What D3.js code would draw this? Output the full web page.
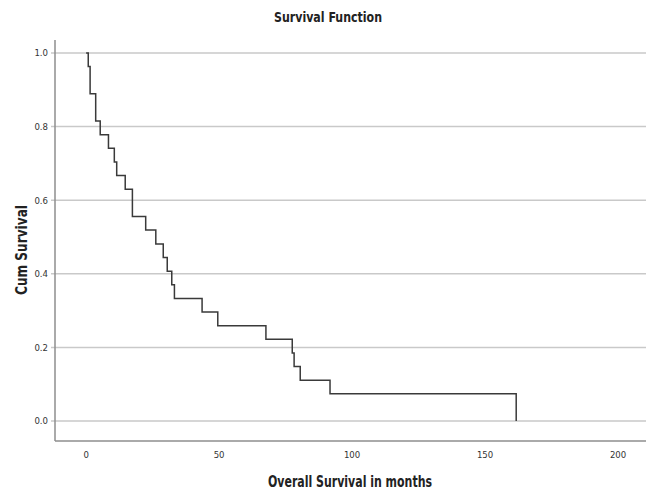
<!DOCTYPE html>
<html><head><meta charset="utf-8">
<script src="https://cdn.jsdelivr.net/npm/d3@7/dist/d3.min.js"></script>
<style>
html,body{margin:0;padding:0;background:#fff;}
svg{display:block;}
text{font-family:"Liberation Sans Narrow","DejaVu Sans Condensed","Arial Narrow",sans-serif;}
</style></head>
<body><div id="chart"></div>
<script>
// Kaplan-Meier event times (months) and survival after each event
const eventTimes = [0.8, 1.5, 3.6, 5.3, 8.4, 10.6, 11.5, 14.7, 17.4, 22.4, 26.2, 29.0, 30.5, 32.2, 33.2, 43.6, 49.5, 67.6, 77.5, 78.2, 80.5, 91.7, 161.7];
const survival   = [0.963, 0.889, 0.815, 0.778, 0.741, 0.704, 0.667, 0.630, 0.556, 0.519, 0.481, 0.444, 0.407, 0.370, 0.333, 0.296, 0.259, 0.222, 0.185, 0.148, 0.111, 0.074, 0.0];
const xTicks = [0, 50, 100, 150, 200];
const yTicks = [0.0, 0.2, 0.4, 0.6, 0.8, 1.0];
const titleText = "Survival Function";
const xLabel = "Overall Survival in months";
const yLabel = "Cum Survival";

const W = 646, H = 490;
const svg = d3.select("#chart").append("svg").attr("width", W).attr("height", H);

const x = d3.scaleLinear().domain([-11.7, 210.5]).range([55, 646]);
const y = d3.scaleLinear().domain([-0.054, 1.035]).range([441, 40]);

// gridlines
svg.append("g").selectAll("line").data(yTicks).join("line")
  .attr("x1", 51).attr("x2", W)
  .attr("y1", d => y(d)).attr("y2", d => y(d))
  .attr("stroke", "#c9c9c9").attr("stroke-width", 1.5);

// axes lines
svg.append("line").attr("x1", 55).attr("x2", 55).attr("y1", 40).attr("y2", 441)
  .attr("stroke", "#8e8e8e").attr("stroke-width", 1.5);
svg.append("line").attr("x1", 55).attr("x2", W).attr("y1", 441).attr("y2", 441)
  .attr("stroke", "#8e8e8e").attr("stroke-width", 1.5);

// y tick labels
svg.append("g").selectAll("text").data(yTicks).join("text")
  .attr("x", 48).attr("y", d => y(d)).attr("dy", "0.35em")
  .attr("text-anchor", "end").attr("font-size", 9.5).attr("fill", "#333")
  .text(d => d.toFixed(1));

// x tick labels
svg.append("g").selectAll("text").data(xTicks).join("text")
  .attr("x", d => x(d)).attr("y", 458)
  .attr("text-anchor", "middle").attr("font-size", 9.5).attr("fill", "#333")
  .text(d => d);

// step curve
const pts = [[0, 1]];
eventTimes.forEach((t, i) => pts.push([t, survival[i]]));
const line = d3.line().x(d => x(d[0])).y(d => y(d[1])).curve(d3.curveStepAfter);
svg.append("path").datum(pts).attr("d", line)
  .attr("fill", "none").attr("stroke", "#3a3a3a").attr("stroke-width", 1.5);

// titles
svg.append("text").attr("x", 328).attr("y", 22).attr("text-anchor", "middle")
  .attr("font-size", 13.5).attr("font-weight", "bold").attr("fill", "#222")
  .attr("textLength", 108).attr("lengthAdjust", "spacingAndGlyphs").text(titleText);
svg.append("text").attr("x", 350).attr("y", 487).attr("text-anchor", "middle")
  .attr("font-size", 15).attr("font-weight", "bold").attr("fill", "#222")
  .attr("textLength", 164).attr("lengthAdjust", "spacingAndGlyphs").text(xLabel);
svg.append("text").attr("transform", "translate(27,250) rotate(-90)").attr("text-anchor", "middle")
  .attr("font-size", 15).attr("font-weight", "bold").attr("fill", "#222")
  .attr("textLength", 90).attr("lengthAdjust", "spacingAndGlyphs").text(yLabel);
</script></body></html>
